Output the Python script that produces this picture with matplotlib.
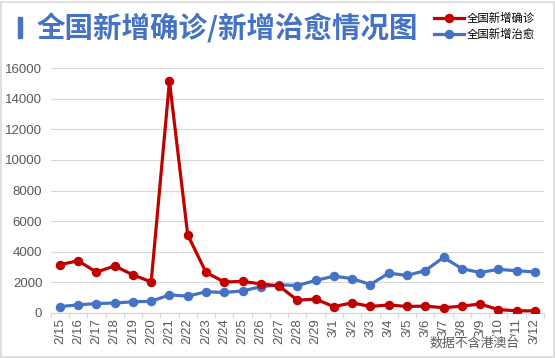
import matplotlib
matplotlib.use("Agg")
import matplotlib.pyplot as plt
from matplotlib.patches import Rectangle

plt.rcParams['font.family'] = ['Noto Sans CJK SC', 'DejaVu Sans']

dates = ["2/15", "2/16", "2/17", "2/18", "2/19", "2/20", "2/21", "2/22", "2/23",
         "2/24", "2/25", "2/26", "2/27", "2/28", "2/29", "3/1", "3/2", "3/3",
         "3/4", "3/5", "3/6", "3/7", "3/8", "3/9", "3/10", "3/11", "3/12"]
confirmed = [3143, 3399, 2656, 3062, 2478, 2015, 15152, 5090, 2641,
             2009, 2048, 1886, 1749, 820, 889, 397, 648, 409,
             508, 406, 433, 327, 427, 573, 202, 125, 119]
cured = [400, 510, 600, 632, 716, 744, 1171, 1081, 1373,
         1323, 1425, 1701, 1824, 1779, 2109, 2393, 2230, 1846,
         2589, 2444, 2750, 3622, 2884, 2630, 2837, 2750, 2664]
yticks = [0, 2000, 4000, 6000, 8000, 10000, 12000, 14000, 16000]

title = "全国新增确诊/新增治愈情况图"
label_confirmed = "全国新增确诊"
label_cured = "全国新增治愈"
note = "数据不含港澳台"

RED = "#C00000"
BLUE = "#4472C4"
GRAY = "#595959"
GRID = "#D9D9D9"

W, H = 555, 358
fig = plt.figure(figsize=(W / 100, H / 100), dpi=100)
fig.patch.set_facecolor("white")

# outer frame
fig.patches.append(Rectangle((1 / W, 1 / H), (W - 2.5) / W, (H - 2.5) / H,
                             transform=fig.transFigure, fill=False,
                             edgecolor=GRID, linewidth=1.2))

ax = fig.add_axes([50.7 / W, 1 - 312.7 / H, (544 - 50.7) / W, (312.7 - 68.3) / H])
x = list(range(len(dates)))

l2, = ax.plot(x, cured, color=BLUE, linewidth=2.3, marker="o", markersize=5.8,
              zorder=3, label=label_cured, solid_joinstyle="round")
l1, = ax.plot(x, confirmed, color=RED, linewidth=2.3, marker="o", markersize=5.8,
              zorder=4, label=label_confirmed, solid_joinstyle="round")

ax.set_xlim(-0.5, len(dates) - 0.5)
ax.set_ylim(0, 16000)
ax.set_yticks(yticks)
ax.set_yticklabels([str(v) for v in yticks], fontfamily="Liberation Sans",
                   fontsize=9.5, color=GRAY)
ax.set_xticks(x)
ax.set_xticklabels(dates, rotation=90, fontfamily="Liberation Sans",
                   fontsize=9.5, color=GRAY)
ax.set_xticks([i - 0.5 for i in range(len(dates) + 1)], minor=True)
ax.tick_params(axis="x", which="major", length=0, pad=4)
ax.tick_params(axis="x", which="minor", length=3.6, color=GRID, width=0.8)
ax.tick_params(axis="y", length=0, pad=6)
ax.grid(axis="y", color=GRID, linewidth=0.8)
ax.set_axisbelow(True)
for s in ["left", "right", "top"]:
    ax.spines[s].set_visible(False)
ax.spines["bottom"].set_color(GRID)
ax.spines["bottom"].set_linewidth(0.9)

# title with bar
fig.patches.append(Rectangle((18 / W, 1 - 38 / H), 3.5 / W, 21 / H,
                             transform=fig.transFigure, color=BLUE))
fig.text(37 / W, 1 - 28 / H, title, color=BLUE, fontsize=20.5,
         fontweight="bold", va="center", ha="left")

leg = fig.legend(handles=[l1, l2], loc="center left",
                 bbox_to_anchor=(434 / W, 1 - 26 / H), frameon=False,
                 fontsize=8.2, handlelength=2.6, handletextpad=0.3,
                 labelspacing=0.45, borderpad=0, borderaxespad=0)
for t in leg.get_texts():
    t.set_color("black")

fig.text(475 / W, 1 - 343 / H, note, color=GRAY, fontsize=9.3, ha="center",
         va="center", bbox=dict(facecolor="white", edgecolor="none", pad=0.5))

fig.savefig("out.png", dpi=100)
